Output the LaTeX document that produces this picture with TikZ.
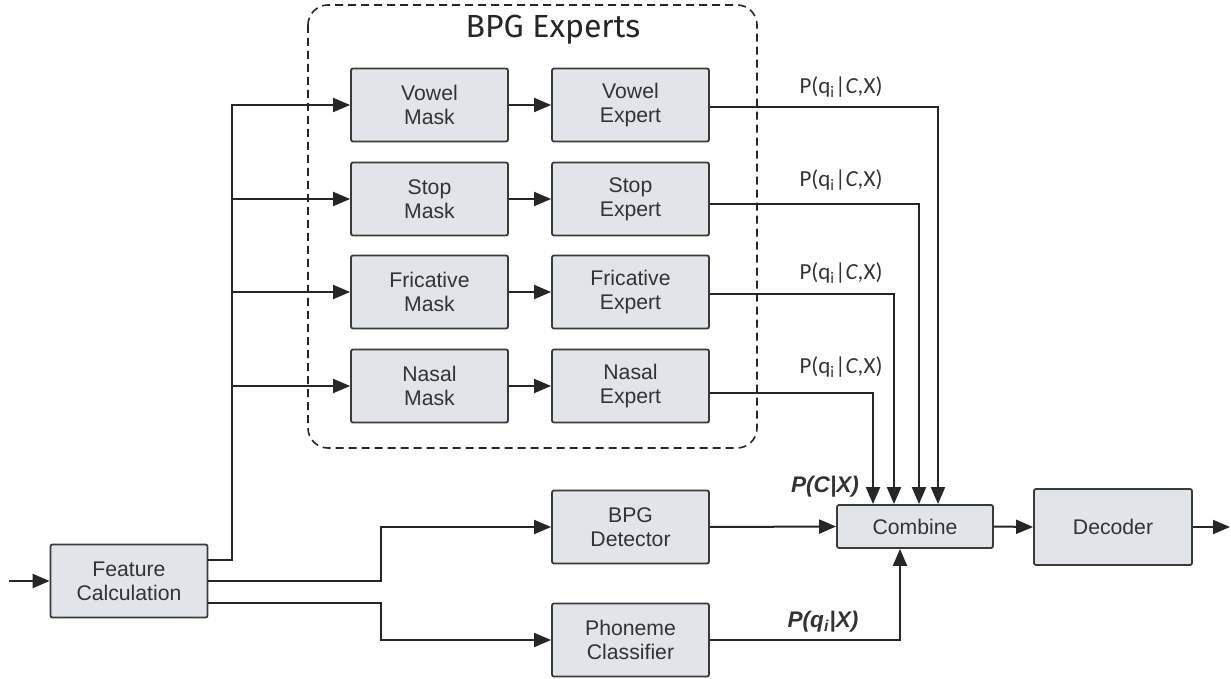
\documentclass[tikz,border=0pt]{standalone}
\usepackage{fontspec}
\setmainfont{Liberation Sans}
\newfontfamily\labfont{Carlito}
\newfontfamily\titfont{Fira Sans}
\usetikzlibrary{arrows.meta}
\definecolor{boxfill}{HTML}{E1E4E9}
\definecolor{boxborder}{HTML}{3A3A3A}
\definecolor{ln}{HTML}{262626}
\definecolor{txt}{HTML}{333333}
\begin{document}
\begin{tikzpicture}[x=0.5pt,y=-0.5pt,
  blk/.style={draw=boxborder, fill=boxfill, line width=0.9pt, rounded corners=1pt,
    minimum width=78.5pt, minimum height=36.5pt, align=center, inner sep=0pt,
    font=\fontsize{10.6}{12}\selectfont, text=txt},
  conn/.style={line width=1pt, draw=ln, -{Triangle[length=8.5pt,width=7pt]}},
  lab/.style={font=\labfont\fontsize{11.5}{13}\selectfont, text=txt, inner sep=0pt},
  blab/.style={font=\fontsize{11.3}{13}\selectfont\bfseries\itshape, text=txt, inner sep=0pt}
]
\useasboundingbox (0,0) rectangle (1231,679);

% BPG experts frame
\draw[dashed, dash pattern=on 4pt off 2.5pt, rounded corners=10pt, line width=0.8pt, draw=ln]
  (308,5) rectangle (757,448);
\node[font=\titfont\fontsize{16}{18}\selectfont, text=ln] (title) at (553,30) {BPG Experts};

% masks and experts
\node[blk] (vm) at (429.5,105) {Vowel\\Mask};
\node[blk] (sm) at (429.5,199) {Stop\\Mask};
\node[blk] (fm) at (429.5,292) {Fricative\\Mask};
\node[blk] (nm) at (429.5,386) {Nasal\\Mask};
\node[blk] (ve) at (630.5,105) {Vowel\\Expert};
\node[blk] (se) at (630.5,199) {Stop\\Expert};
\node[blk] (fe) at (630.5,292) {Fricative\\Expert};
\node[blk] (ne) at (630.5,386) {Nasal\\Expert};

% other blocks
\node[blk] (fc) at (129,581) {Feature\\Calculation};
\node[blk] (bd) at (630.5,527) {BPG\\Detector};
\node[blk] (pc) at (630.5,640) {Phoneme\\Classifier};
\node[blk, minimum width=78pt, minimum height=21.5pt] (cb) at (915,526.5) {Combine};
\node[blk, minimum width=79pt, minimum height=38pt] (dec) at (1113,527) {Decoder};

\coordinate (bus) at (232,0);
\coordinate (j) at (381,0);
\coordinate (in) at (9,581);
\coordinate (out) at (1230,527);

% input / output
\draw[conn] (in) -- (fc.west);
\draw[conn] (cb.east) -- (dec.west);
\draw[conn] (dec.east) -- (out);

% feature to masks
\draw[conn] ([yshift=10.5pt]fc.east) -| (bus |- vm.west) -- (vm.west);
\draw[conn] (bus |- sm.west) -- (sm.west);
\draw[conn] (bus |- fm.west) -- (fm.west);
\draw[conn] (bus |- nm.west) -- (nm.west);

% masks to experts
\draw[conn] (vm.east) -- (ve.west);
\draw[conn] (sm.east) -- (se.west);
\draw[conn] (fm.east) -- (fe.west);
\draw[conn] (nm.east) -- (ne.west);

% experts to combine
\draw[conn] ([yshift=-1pt]ve.east) -| ([xshift=11.5pt]cb.north);
\draw[conn] ([yshift=-2.5pt]se.east) -| ([xshift=2pt]cb.north);
\draw[conn] ([yshift=-1pt]fe.east) -| ([xshift=-10.5pt]cb.north);
\draw[conn] ([yshift=-3.5pt]ne.east) -| ([xshift=-21pt]cb.north);

% feature to detector and classifier
\draw[conn] (fc.east) -| (j |- bd.west) -- (bd.west);
\draw[conn] ([yshift=-11pt]fc.east) -| (j |- pc.west) -- (pc.west);

% detector and classifier to combine
\draw[conn] (bd.east) -- (cb.west);
\draw[conn] (pc.east) -| ([xshift=-7.5pt]cb.south);

% labels
\node[lab] (l1) at (841,87) {P(q\textsubscript{i}|\textit{C},X)};
\node[lab] (l2) at (841,180) {P(q\textsubscript{i}|\textit{C},X)};
\node[lab] (l3) at (841,273) {P(q\textsubscript{i}|\textit{C},X)};
\node[lab] (l4) at (841,367) {P(q\textsubscript{i}|\textit{C},X)};
\node[blab] (lc) at (825,487) {P(C|X)};
\node[blab] (lq) at (823,622) {P(q\textsubscript{i}|X)};
\end{tikzpicture}
\end{document}
